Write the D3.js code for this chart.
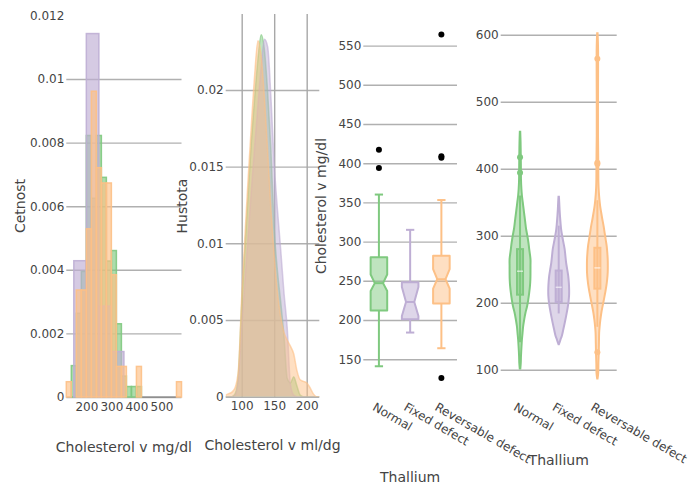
<!DOCTYPE html>
<html>
<head>
<meta charset="utf-8">
<script src="https://cdn.jsdelivr.net/npm/d3@7"></script>
<style>
  body { margin: 0; background: #fff; }
  text { font-family: "DejaVu Sans", Verdana, sans-serif; }
</style>
</head>
<body>
<svg id="chart" width="690" height="487"></svg>
<script>
// ---------- data ----------
const thalCats = ["Normal", "Fixed defect", "Reversable defect"];
const thalColors = ["#7fc97f", "#beaed4", "#fdc086"];

// histogram bins (lower edges) for Normal / Reversable defect, width 20 mg/dl
const binStarts20 = [120, 140, 160, 180, 200, 220, 240, 260, 280, 300, 320, 340,
                     360, 380, 400, 420, 440, 460, 480, 500, 520, 540, 560];
const normalCounts = [0, 3, 8, 12, 25, 19, 25, 21, 13, 14, 7, 2,
                      1, 1, 1, 0, 0, 0, 0, 0, 0, 0, 0];
const reversableCounts = [1, 0, 7, 7, 11, 20, 15, 14, 14, 8, 2, 2,
                          0, 0, 2, 0, 0, 0, 0, 0, 0, 0, 1];
// Fixed defect uses 50 mg/dl bins
const binStarts50 = [150, 200, 250, 300];
const fixedCounts = [3, 8, 2, 1];
const histYTicks = [0, 0.002, 0.004, 0.006, 0.008, 0.01, 0.012];
const histXTicks = [200, 300, 400, 500];

// density estimates (Cholesterol v ml/dg)
const densX = [75, 80, 85, 90, 95, 100, 105, 110, 115, 120, 125, 130, 135, 140, 145,
               150, 155, 160, 165, 170, 175, 180, 185, 190, 195, 200, 205, 210, 215, 220];
const densNormal = [0, 0, 0, 0.0002, 0.0015, 0.0060, 0.0097, 0.0132, 0.0167, 0.0195, 0.0220, 0.0236, 0.0226, 0.0198, 0.0160,
                    0.0110, 0.0082, 0.0062, 0.0040, 0.0012, 0.0009, 0.0013, 0.0007, 0.0001, 0, 0, 0, 0, 0, 0];
const densFixed = [0, 0, 0, 0.0001, 0.0012, 0.0045, 0.0075, 0.0105, 0.0135, 0.0163, 0.0190, 0.0215, 0.0233, 0.0228, 0.0195,
                   0.0152, 0.0122, 0.0096, 0.0068, 0.0045, 0.0008, 0.0001, 0, 0, 0, 0, 0, 0, 0, 0];
const densReversable = [0.0001, 0.0002, 0.0003, 0.0006, 0.0018, 0.0065, 0.0105, 0.0143, 0.0178, 0.0210, 0.0232, 0.0222, 0.0195, 0.0160, 0.0122,
                        0.0092, 0.0068, 0.0052, 0.0042, 0.0037, 0.0033, 0.0028, 0.0017, 0.0011, 0.0010, 0.0009, 0.0006, 0.0002, 0, 0];
const densYTicks = [0, 0.005, 0.01, 0.015, 0.02];
const densXTicks = [100, 150, 200];

// box statistics per thallium group (mg/dl)
const boxLowerFence = [141, 184, 164];
const boxQ1 = [212, 201, 221];
const boxMedian = [247, 223, 252];
const boxQ3 = [280, 248, 282];
const boxUpperFence = [360, 315, 353];
const boxNotchLo = [237, 205, 240];
const boxNotchHi = [258, 242, 265];
const boxOutliers = [[394, 417], [], [126, 407, 409, 564]];
const boxYTicks = [150, 200, 250, 300, 350, 400, 450, 500, 550];

// violin profiles: [cholesterol, relative density]
const violinNormal = [[102, 0.03], [110, 0.07], [120, 0.09], [135, 0.14], [145, 0.18], [155, 0.24], [165, 0.30], [175, 0.40],
  [185, 0.52], [195, 0.68], [205, 0.79], [215, 0.88], [225, 0.95], [235, 0.99], [245, 1.0], [255, 1.0], [265, 1.0],
  [280, 0.88], [290, 0.80], [300, 0.70], [310, 0.58], [320, 0.50], [330, 0.42], [340, 0.34], [350, 0.26], [360, 0.18],
  [370, 0.13], [385, 0.09], [405, 0.08], [420, 0.07], [440, 0.05], [455, 0.02]];
const violinFixed = [[138, 0.02], [145, 0.17], [150, 0.29], [160, 0.44], [170, 0.58], [180, 0.71], [190, 0.83], [200, 0.93],
  [210, 0.99], [220, 1.0], [230, 0.97], [240, 0.91], [250, 0.81], [260, 0.71], [270, 0.64], [280, 0.57], [290, 0.45],
  [300, 0.33], [310, 0.23], [320, 0.17], [330, 0.12], [340, 0.08], [350, 0.05], [358, 0.02]];
const violinReversable = [[87, 0.02], [95, 0.08], [110, 0.10], [125, 0.13], [140, 0.15], [155, 0.17], [165, 0.22], [175, 0.29],
  [185, 0.38], [195, 0.50], [205, 0.63], [215, 0.75], [225, 0.86], [235, 0.94], [245, 0.99], [255, 1.0], [265, 0.99],
  [275, 0.95], [285, 0.89], [295, 0.79], [305, 0.69], [315, 0.59], [325, 0.47], [335, 0.36], [345, 0.26], [355, 0.19],
  [365, 0.14], [380, 0.10], [400, 0.09], [420, 0.08], [450, 0.06], [500, 0.06], [550, 0.07], [575, 0.07], [590, 0.05], [602, 0.02]];
const violinYTicks = [100, 200, 300, 400, 500, 600];

// ---------- drawing ----------
const svg = d3.select("#chart");
const GRID = "#b0b0b0";
const TXT = "#444";

function styleAxis(g) {
  g.attr("font-family", null).attr("font-size", 12).attr("color", TXT);
  g.select(".domain").remove();
  g.selectAll(".tick line").attr("stroke", GRID).attr("stroke-width", 1.4);
  g.selectAll(".tick text").attr("fill", TXT);
}
function vTitle(x, y, label) {
  svg.append("text").attr("transform", `translate(${x},${y}) rotate(-90)`)
    .attr("text-anchor", "middle").attr("dy", "0.35em").attr("font-size", 14).attr("fill", TXT).text(label);
}
function hTitle(x, y, label) {
  svg.append("text").attr("x", x).attr("y", y).attr("text-anchor", "middle")
    .attr("dy", "0.35em").attr("font-size", 14).attr("fill", TXT).text(label);
}
const numFmt = d => String(+d.toFixed(4));

// ===== Panel 1: histogram (probability density) =====
const h = { l: 66.3, r: 181.5, t: 15.4, b: 397 };
const hx = d3.scaleLinear().domain([120, 580]).range([h.l, h.r]);
const hy = d3.scaleLinear().domain([0, 0.012]).range([h.b, h.t]);
const hyAxis = svg.append("g").attr("transform", `translate(${h.l},0)`)
  .call(d3.axisLeft(hy).tickValues(histYTicks).tickSize(-(h.r - h.l)).tickPadding(2).tickFormat(numFmt));
styleAxis(hyAxis);
hyAxis.selectAll(".tick").filter(d => d === 0.012).select("line").remove();
const hxAxis = svg.append("g").attr("transform", `translate(0,${h.b})`)
  .call(d3.axisBottom(hx).tickValues(histXTicks).tickSize(0).tickPadding(5));
styleAxis(hxAxis);
// empty bins baseline
svg.append("line").attr("x1", hx(420)).attr("x2", hx(560)).attr("y1", hy(0)).attr("y2", hy(0))
  .attr("stroke", "#6e6e6e").attr("stroke-width", 1);

function histBars(starts, counts, width, color) {
  const n = d3.sum(counts);
  const bins = starts.map((s, i) => ({ s, c: counts[i] })).filter(d => d.c > 0);
  svg.append("g").selectAll("rect").data(bins).join("rect")
    .attr("x", d => hx(d.s)).attr("width", d => hx(d.s + width) - hx(d.s))
    .attr("y", d => hy(d.c / (n * width))).attr("height", d => hy(0) - hy(d.c / (n * width)))
    .attr("fill", color).attr("fill-opacity", 0.65)
    .attr("stroke", color).attr("stroke-width", 1.5).attr("stroke-opacity", 0.9);
}
histBars(binStarts20, normalCounts, 20, thalColors[0]);
histBars(binStarts50, fixedCounts, 50, thalColors[1]);
histBars(binStarts20, reversableCounts, 20, thalColors[2]);

vTitle(20, 206, "Cetnost");
hTitle((h.l + h.r) / 2, 447, "Cholesterol v mg/dl");

// ===== Panel 2: density curves =====
const d = { l: 225.7, r: 319.3, t: 14, b: 396.7 };
const dx = d3.scaleLinear().domain([75.4, 219.4]).range([d.l, d.r]);
const dy = d3.scaleLinear().domain([0, 0.02495]).range([d.b, d.t]);
const dyAxis = svg.append("g").attr("transform", `translate(${d.l},0)`)
  .call(d3.axisLeft(dy).tickValues(densYTicks).tickSize(-(d.r - d.l)).tickPadding(2).tickFormat(numFmt));
styleAxis(dyAxis);
const dxAxis = svg.append("g").attr("transform", `translate(0,${d.b})`)
  .call(d3.axisBottom(dx).tickValues(densXTicks).tickSize(-(d.b - d.t)).tickPadding(5));
styleAxis(dxAxis);
dxAxis.selectAll(".tick line").attr("stroke", "#a8a8a8");

svg.append("clipPath").attr("id", "dclip").append("rect")
  .attr("x", d.l).attr("y", d.t).attr("width", d.r - d.l).attr("height", d.b - d.t);
const dArea = d3.area().x(p => dx(p[0])).y0(dy(0)).y1(p => dy(p[1])).curve(d3.curveMonotoneX);
const dLine = d3.line().x(p => dx(p[0])).y(p => dy(p[1])).curve(d3.curveMonotoneX);
const dg = svg.append("g").attr("clip-path", "url(#dclip)");
[densNormal, densFixed, densReversable].forEach((vals, i) => {
  const pts = densX.map((x, j) => [x, vals[j]]);
  dg.append("path").attr("d", dArea(pts)).attr("fill", thalColors[i]).attr("fill-opacity", 0.5);
  dg.append("path").attr("d", dLine(pts)).attr("fill", "none")
    .attr("stroke", thalColors[i]).attr("stroke-width", 1.5).attr("stroke-opacity", 0.6);
});
vTitle(182, 206, "Hustota");
hTitle((d.l + d.r) / 2, 445, "Cholesterol v ml/dg");

// ===== Panel 3: notched box plot =====
const b = { l: 363.3, r: 457, t: 15, b: 397 };
const bx = d3.scaleBand().domain(thalCats).range([b.l, b.r]);
const by = d3.scaleLinear().domain([101.8, 589]).range([b.b, b.t]);
const byAxis = svg.append("g").attr("transform", `translate(${b.l},0)`)
  .call(d3.axisLeft(by).tickValues(boxYTicks).tickSize(-(b.r - b.l)).tickPadding(2));
styleAxis(byAxis);

function catLabels(scale, yTop) {
  thalCats.forEach(c => {
    svg.append("text")
      .attr("transform", `translate(${scale(c) + scale.bandwidth() / 2 - 3},${yTop}) rotate(30)`)
      .attr("dy", "0.71em").attr("font-size", 12).attr("fill", TXT).text(c);
  });
}
catLabels(bx, 402);

thalCats.forEach((c, i) => {
  const col = thalColors[i];
  const cx = bx(c) + bx.bandwidth() / 2;
  const w = bx.bandwidth() * 0.53;
  const L = cx - w / 2, R = cx + w / 2, inset = w * 0.25;
  const g = svg.append("g");
  // whiskers
  g.append("line").attr("x1", cx).attr("x2", cx).attr("y1", by(boxQ3[i])).attr("y2", by(boxUpperFence[i]))
    .attr("stroke", col).attr("stroke-width", 2);
  g.append("line").attr("x1", cx).attr("x2", cx).attr("y1", by(boxQ1[i])).attr("y2", by(boxLowerFence[i]))
    .attr("stroke", col).attr("stroke-width", 2);
  [boxUpperFence[i], boxLowerFence[i]].forEach(v => {
    g.append("line").attr("x1", cx - w / 4).attr("x2", cx + w / 4).attr("y1", by(v)).attr("y2", by(v))
      .attr("stroke", col).attr("stroke-width", 2);
  });
  // notched box
  const path = d3.path();
  path.moveTo(L, by(boxQ3[i]));
  path.lineTo(R, by(boxQ3[i]));
  path.lineTo(R, by(boxNotchHi[i]));
  path.lineTo(R - inset, by(boxMedian[i]));
  path.lineTo(R, by(boxNotchLo[i]));
  path.lineTo(R, by(boxQ1[i]));
  path.lineTo(L, by(boxQ1[i]));
  path.lineTo(L, by(boxNotchLo[i]));
  path.lineTo(L + inset, by(boxMedian[i]));
  path.lineTo(L, by(boxNotchHi[i]));
  path.closePath();
  g.append("path").attr("d", path.toString()).attr("fill", col).attr("fill-opacity", 0.5)
    .attr("stroke", col).attr("stroke-width", 2).attr("stroke-linejoin", "round");
  g.append("line").attr("x1", L + inset).attr("x2", R - inset).attr("y1", by(boxMedian[i])).attr("y2", by(boxMedian[i]))
    .attr("stroke", col).attr("stroke-width", 2);
  // outliers
  g.selectAll("circle").data(boxOutliers[i]).join("circle")
    .attr("cx", cx).attr("cy", v => by(v)).attr("r", 3).attr("fill", "#000");
});
vTitle(321, 206, "Cholesterol v mg/dl");
hTitle((b.l + b.r) / 2, 477, "Thallium");

// ===== Panel 4: violins =====
const v = { l: 500.7, r: 616.7, t: 15, b: 397 };
const vx = d3.scaleBand().domain(thalCats).range([v.l, v.r]);
const vy = d3.scaleLinear().domain([59.3, 629.4]).range([v.b, v.t]);
const vw = d3.scaleLinear().domain([0, 1]).range([0, vx.bandwidth() * 0.27]);
const vyAxis = svg.append("g").attr("transform", `translate(${v.l},0)`)
  .call(d3.axisLeft(vy).tickValues(violinYTicks).tickSize(-(v.r - v.l)).tickPadding(2));
styleAxis(vyAxis);
catLabels(vx, 402);

[violinNormal, violinFixed, violinReversable].forEach((prof, i) => {
  const col = thalColors[i];
  const c = thalCats[i];
  const cx = vx(c) + vx.bandwidth() / 2;
  const g = svg.append("g");
  const area = d3.area().y(p => vy(p[0])).x0(p => cx - vw(p[1])).x1(p => cx + vw(p[1]))
    .curve(d3.curveCatmullRom);
  g.append("path").attr("d", area(prof)).attr("fill", col).attr("fill-opacity", 0.5)
    .attr("stroke", col).attr("stroke-width", 2);
  // inner box and whiskers
  const bw = vx.bandwidth() * 0.078;
  g.append("line").attr("x1", cx).attr("x2", cx).attr("y1", vy(boxLowerFence[i])).attr("y2", vy(boxUpperFence[i]))
    .attr("stroke", col).attr("stroke-width", 2);
  g.append("rect").attr("x", cx - bw).attr("width", bw * 2)
    .attr("y", vy(boxQ3[i])).attr("height", vy(boxQ1[i]) - vy(boxQ3[i]))
    .attr("fill", col).attr("fill-opacity", 0.5).attr("stroke", col).attr("stroke-width", 2);
  g.append("line").attr("x1", cx - bw).attr("x2", cx + bw).attr("y1", vy(boxMedian[i])).attr("y2", vy(boxMedian[i]))
    .attr("stroke", "#fff").attr("stroke-opacity", 0.6).attr("stroke-width", 1.5);
  g.selectAll("circle").data(boxOutliers[i]).join("circle")
    .attr("cx", cx).attr("cy", p => vy(p)).attr("r", 3).attr("fill", col);
});
hTitle((v.l + v.r) / 2, 460, "Thallium");
</script>
</body>
</html>
